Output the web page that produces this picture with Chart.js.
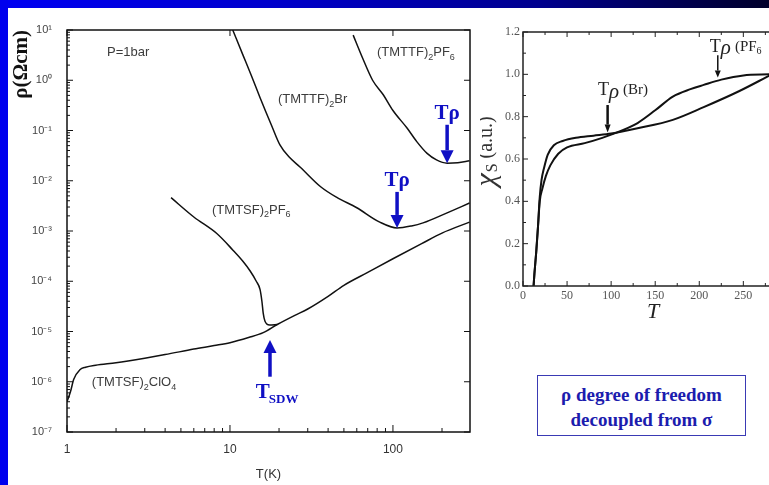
<!DOCTYPE html>
<html lang="en">
<head>
  <meta charset="UTF-8" />
  <title>Organic conductors: resistivity and spin susceptibility</title>
  <script src="https://cdn.jsdelivr.net/npm/chart.js"></script>
  <style>
    body {
      margin: 0;
      width: 769px;
      height: 485px;
      overflow: hidden;
      position: relative;
      background: #fff;
      font-family: 'Liberation Sans', Arial, sans-serif;
    }
    .topbar {
      position: absolute; left: 0; top: 0; width: 769px; height: 8px;
      background: linear-gradient(to right, #0000f2 0%, #0000cc 35%, #00008e 70%, #00002a 100%);
    }
    .leftbar {
      position: absolute; left: 0; top: 0; width: 8px; height: 485px;
      background: #0000ee;
    }
    #rhoBox { position: absolute; left: 8px; top: 8px; width: 472px; height: 477px; }
    #chiBox { position: absolute; left: 480px; top: 8px; width: 320px; height: 320px; }
    .note {
      position: absolute; left: 537px; top: 375px; width: 209px; height: 61px;
      box-sizing: border-box; border: 1px solid #3a3ab4;
      color: #1c1cae; text-align: center;
      font: bold 19px 'Liberation Serif', 'Times New Roman', serif;
      line-height: 25px; padding-top: 6px;
    }
  </style>
</head>
<body>
  <div class="topbar"></div>
  <div class="leftbar"></div>
  <div id="rhoBox"><canvas id="rhoChart"></canvas></div>
  <div id="chiBox"><canvas id="chiChart"></canvas></div>
  <div class="note">ρ degree of freedom<br>decoupled from σ</div>

  <script>
    // ---- left panel: resistivity (Ohm cm) vs T (K), P = 1 bar
    const clo4T   = [1, 1.05, 1.1, 1.2, 1.3, 1.5, 2, 3, 4, 6, 8, 10, 13, 16, 19.5, 25, 30, 40, 50, 70, 100, 150, 200, 295];
    const clo4Rho = [4.0e-7, 6.3e-7, 1.12e-6, 1.74e-6, 1.95e-6, 2.14e-6, 2.4e-6, 2.95e-6, 3.47e-6, 4.47e-6, 5.25e-6, 6.0e-6,
                     7.6e-6, 9.5e-6, 1.38e-5, 2.1e-5, 2.8e-5, 5.0e-5, 8.3e-5, 1.5e-4, 2.8e-4, 5.6e-4, 9.1e-4, 1.5e-3];

    const tsfPF6T   = [4.35, 6, 8.3, 10.4, 12, 13.3, 14.5, 15.3, 15.7, 16, 16.4, 17.5, 19.5];
    const tsfPF6Rho = [4.6e-3, 1.9e-3, 8.9e-4, 4.2e-4, 2.5e-4, 1.6e-4, 1.0e-4, 6.8e-5, 4.0e-5, 2.3e-5, 1.6e-5, 1.35e-5, 1.38e-5];

    const brT   = [10.4, 12, 13.5, 15.3, 18, 20.3, 23, 27, 36, 45, 60, 83, 106, 130, 153, 215, 295];
    const brRho = [10, 3.2, 1.26, 0.45, 0.126, 0.051, 0.030, 0.0186, 7.6e-3, 4.7e-3, 2.9e-3, 1.5e-3, 1.15e-3, 1.26e-3, 1.45e-3, 2.3e-3, 3.6e-3];

    const ttfPF6T   = [57, 65, 75, 87, 100, 122, 140, 162, 185, 215, 250, 295];
    const ttfPF6Rho = [7.9, 2.8, 1.0, 0.52, 0.25, 0.112, 0.060, 0.035, 0.026, 0.0224, 0.0229, 0.025];

    const rhoTicks      = [1e-7, 1e-6, 1e-5, 1e-4, 1e-3, 1e-2, 1e-1, 1, 10];
    const rhoTickLabels = ['10⁻⁷', '10⁻⁶', '10⁻⁵', '10⁻⁴', '10⁻³', '10⁻²', '10⁻¹', '10⁰', '10¹'];
    const tLogTicks      = [1, 10, 100];
    const tLogTickLabels = ['1', '10', '100'];

    // ---- right panel: spin susceptibility (a.u.) vs T
    const chiBrT  = [12, 13, 15, 17, 19, 21, 24, 28, 35, 45, 60, 80, 100, 130, 170, 205, 245, 280];
    const chiBr   = [0, 0.06, 0.16, 0.28, 0.42, 0.50, 0.56, 0.62, 0.665, 0.685, 0.70, 0.71, 0.72, 0.745, 0.785, 0.845, 0.92, 0.995];
    const chiPF6T = [12, 13, 15, 17, 19, 22, 26, 31, 40, 50, 70, 90, 100, 130, 150, 170, 190, 205, 225, 250, 280];
    const chiPF6  = [0, 0.06, 0.16, 0.28, 0.40, 0.46, 0.52, 0.57, 0.625, 0.655, 0.675, 0.70, 0.715, 0.77, 0.83, 0.895, 0.93, 0.95, 0.975, 0.995, 1.0];
    const chiTicks = [0, 0.2, 0.4, 0.6, 0.8, 1.0, 1.2];
    const tLinTicks = [0, 50, 100, 150, 200, 250];

    const pts = (xs, ys) => xs.map((x, i) => ({ x: x, y: ys[i] }));

    function line(ctx, x1, y1, x2, y2) {
      ctx.beginPath(); ctx.moveTo(x1, y1); ctx.lineTo(x2, y2); ctx.stroke();
    }

    // text with subscripts: parts = [[text, isSub], ...]
    function richText(ctx, x, y, parts, size, family, color) {
      let cx = x;
      ctx.fillStyle = color;
      ctx.textBaseline = 'middle';
      ctx.textAlign = 'left';
      for (const [t, sub] of parts) {
        ctx.font = (sub ? Math.round(size * 0.7) : size) + 'px ' + family;
        ctx.fillText(t, cx, y + (sub ? size * 0.35 : 0));
        cx += ctx.measureText(t).width;
      }
    }

    function arrow(ctx, x, yFrom, yTo, shaft, head, headLen, color) {
      const dir = yTo > yFrom ? 1 : -1;
      ctx.strokeStyle = color; ctx.fillStyle = color; ctx.lineWidth = shaft;
      line(ctx, x, yFrom, x, yTo - dir * headLen);
      ctx.beginPath();
      ctx.moveTo(x - head / 2, yTo - dir * headLen);
      ctx.lineTo(x + head / 2, yTo - dir * headLen);
      ctx.lineTo(x, yTo);
      ctx.closePath(); ctx.fill();
    }

    const rhoDecor = {
      id: 'rhoDecor',
      afterDraw(chart) {
        const { ctx, chartArea: a, scales: { x, y } } = chart;
        ctx.save();
        ctx.strokeStyle = '#111'; ctx.lineWidth = 1.5;
        ctx.strokeRect(a.left, a.top, a.right - a.left, a.bottom - a.top);
        ctx.lineWidth = 1;
        for (const d of rhoTicks) {
          for (let m = 1; m <= 9; m++) {
            const v = m * d;
            if (v > y.max * 1.0001) break;
            const py = y.getPixelForValue(v);
            line(ctx, a.left, py, a.left + (m === 1 ? 6 : 3), py);
            if (m === 1) line(ctx, a.right, py, a.right - 6, py);
          }
        }
        for (const d of tLogTicks) {
          for (let m = 1; m <= 9; m++) {
            const v = m * d;
            if (v > x.max) break;
            const px = x.getPixelForValue(v);
            line(ctx, px, a.bottom, px, a.bottom - (m === 1 ? 7 : 4));
            if (m === 1) line(ctx, px, a.top, px, a.top + 6);
          }
        }

        const grey = '#3c3c3c', sans = "'Liberation Sans', Arial, sans-serif";
        richText(ctx, x.getPixelForValue(1.76), y.getPixelForValue(3.6), [['P=1bar', 0]], 13, sans, grey);
        richText(ctx, x.getPixelForValue(79.8), y.getPixelForValue(3.5), [['(TMTTF)', 0], ['2', 1], ['PF', 0], ['6', 1]], 13, sans, grey);
        richText(ctx, x.getPixelForValue(19.7), y.getPixelForValue(0.41), [['(TMTTF)', 0], ['2', 1], ['Br', 0]], 13, sans, grey);
        richText(ctx, x.getPixelForValue(7.76), y.getPixelForValue(2.6e-3), [['(TMTSF)', 0], ['2', 1], ['PF', 0], ['6', 1]], 13, sans, grey);
        richText(ctx, x.getPixelForValue(1.42), y.getPixelForValue(9.5e-7), [['(TMTSF)', 0], ['2', 1], ['ClO', 0], ['4', 1]], 13, sans, grey);

        const blue = '#1010c4', serif = "bold 21px 'Liberation Serif', 'Times New Roman', serif";
        arrow(ctx, x.getPixelForValue(106), y.getPixelForValue(6.0e-3), y.getPixelForValue(1.15e-3), 3.5, 13, 13, blue);
        arrow(ctx, x.getPixelForValue(215), y.getPixelForValue(0.13), y.getPixelForValue(0.0224), 3.5, 13, 13, blue);
        arrow(ctx, x.getPixelForValue(17.6), y.getPixelForValue(1.26e-6), y.getPixelForValue(6.8e-6), 3.5, 13, 13, blue);
        ctx.font = serif; ctx.fillStyle = blue; ctx.textAlign = 'center'; ctx.textBaseline = 'middle';
        ctx.fillText('Tρ', x.getPixelForValue(106), y.getPixelForValue(1.0e-2));
        ctx.fillText('Tρ', x.getPixelForValue(215), y.getPixelForValue(0.22));
        ctx.textAlign = 'left';
        const sx = x.getPixelForValue(14.4), sy = y.getPixelForValue(6.0e-7);
        ctx.fillText('T', sx, sy);
        const tw = ctx.measureText('T').width;
        ctx.font = "bold 13px 'Liberation Serif', 'Times New Roman', serif";
        ctx.fillText('SDW', sx + tw - 1, sy + 7);
        ctx.restore();
      }
    };

    const curve = (data) => ({
      data: data, borderColor: '#111', borderWidth: 1.5, pointRadius: 0,
      fill: false, cubicInterpolationMode: 'monotone'
    });

    new Chart(document.getElementById('rhoChart'), {
      type: 'line',
      data: {
        datasets: [
          curve(pts(clo4T, clo4Rho)),
          curve(pts(tsfPF6T, tsfPF6Rho)),
          curve(pts(brT, brRho)),
          curve(pts(ttfPF6T, ttfPF6Rho))
        ]
      },
      options: {
        responsive: true, maintainAspectRatio: false, animation: false,
        layout: { padding: { top: 22, right: 10, left: 0, bottom: 0 } },
        plugins: { legend: { display: false }, tooltip: { enabled: false } },
        scales: {
          x: {
            type: 'logarithmic', min: 1, max: 297,
            afterBuildTicks: s => { s.ticks = tLogTicks.map(v => ({ value: v })); },
            afterFit: s => { s.height = 53; },
            grid: { display: false, drawTicks: false }, border: { display: false },
            ticks: {
              padding: 10, color: '#333', maxRotation: 0, autoSkip: false,
              font: { family: "'Liberation Sans', Arial, sans-serif", size: 12 },
              callback: v => tLogTickLabels[tLogTicks.indexOf(v)] ?? ''
            },
            title: {
              display: true, text: 'T(K)', color: '#333',
              font: { family: "'Liberation Sans', Arial, sans-serif", size: 13 },
              padding: { top: 0, bottom: 3 }
            }
          },
          y: {
            type: 'logarithmic', min: 1e-7, max: 10,
            afterBuildTicks: s => { s.ticks = rhoTicks.map(v => ({ value: v })); },
            afterFit: s => { s.width = 59; },
            grid: { display: false, drawTicks: false }, border: { display: false },
            ticks: {
              padding: 15, color: '#444', autoSkip: false,
              font: { family: "'Liberation Sans', Arial, sans-serif", size: 11 },
              callback: v => rhoTickLabels[rhoTicks.findIndex(t => Math.abs(t - v) / t < 1e-6)] ?? ''
            },
            title: {
              display: true, text: 'ρ(Ωcm)', align: 'end', color: '#111',
              font: { family: "'Liberation Serif', 'Times New Roman', serif", size: 21, weight: 'bold' },
              padding: { top: 1, bottom: 0 }
            }
          }
        }
      },
      plugins: [rhoDecor]
    });

    const chiDecor = {
      id: 'chiDecor',
      afterDraw(chart) {
        const { ctx, chartArea: a, scales: { x, y } } = chart;
        ctx.save();
        ctx.strokeStyle = '#222'; ctx.lineWidth = 1.5;
        ctx.strokeRect(a.left, a.top, a.right - a.left, a.bottom - a.top);
        ctx.lineWidth = 1;
        for (let v = 0; v <= 1.2001; v += 0.1) {
          const py = y.getPixelForValue(v);
          const major = Math.abs(v * 5 - Math.round(v * 5)) < 1e-6;
          line(ctx, a.left, py, a.left + (major ? 5 : 3), py);
        }
        for (let v = 0; v <= x.max; v += 25) {
          const px = x.getPixelForValue(v);
          const len = v % 50 === 0 ? 5 : 3;
          line(ctx, px, a.bottom, px, a.bottom - len);
          line(ctx, px, a.top, px, a.top + len);
        }

        // rotated y title: chi_s (a.u.)
        const serif = "'Liberation Serif', 'Times New Roman', serif";
        ctx.save();
        ctx.translate(a.left - 36, y.getPixelForValue(0.47));
        ctx.rotate(-Math.PI / 2);
        ctx.fillStyle = '#333'; ctx.textBaseline = 'middle'; ctx.textAlign = 'left';
        ctx.font = 'italic 30px ' + serif;
        ctx.fillText('χ', 0, 0);
        let cx = ctx.measureText('χ').width + 1;
        ctx.font = '16px ' + serif;
        ctx.fillText('S', cx, 6);
        cx += ctx.measureText('S').width + 5;
        ctx.font = '20px ' + serif;
        ctx.fillText('(a.u.)', cx, 0);
        ctx.restore();

        // T_rho markers
        arrow(ctx, x.getPixelForValue(96), y.getPixelForValue(0.855), y.getPixelForValue(0.725), 2.5, 6, 8, '#111');
        arrow(ctx, x.getPixelForValue(221), y.getPixelForValue(1.09), y.getPixelForValue(0.985), 1.5, 6, 7, '#111');
        const mark = (tx, ty, tail) => {
          let px = x.getPixelForValue(tx); const py = y.getPixelForValue(ty);
          ctx.fillStyle = '#222'; ctx.textBaseline = 'middle'; ctx.textAlign = 'left';
          ctx.font = '18px ' + serif; ctx.fillText('T', px, py); px += ctx.measureText('T').width;
          ctx.font = 'italic 21px ' + serif; ctx.fillText('ρ', px, py + 2); px += ctx.measureText('ρ').width + 4;
          for (const [t, sub] of tail) {
            ctx.font = (sub ? '10px ' : '15px ') + serif;
            ctx.fillText(t, px, py + (sub ? 5 : 0)); px += ctx.measureText(t).width;
          }
        };
        mark(85, 0.925, [['(Br)', 0]]);
        mark(212, 1.13, [['(PF', 0], ['6', 1]]);
        ctx.restore();
      }
    };

    const chiCurve = (data) => ({
      data: data, borderColor: '#111', borderWidth: 2, pointRadius: 0,
      fill: false, cubicInterpolationMode: 'monotone'
    });

    new Chart(document.getElementById('chiChart'), {
      type: 'line',
      data: { datasets: [chiCurve(pts(chiBrT, chiBr)), chiCurve(pts(chiPF6T, chiPF6))] },
      options: {
        responsive: true, maintainAspectRatio: false, animation: false,
        layout: { padding: { top: 24, right: 17, left: 0, bottom: 0 } },
        plugins: { legend: { display: false }, tooltip: { enabled: false } },
        scales: {
          x: {
            type: 'linear', min: 0, max: 295,
            afterBuildTicks: s => { s.ticks = tLinTicks.map(v => ({ value: v })); },
            afterFit: s => { s.height = 42; },
            grid: { display: false, drawTicks: false }, border: { display: false },
            ticks: {
              padding: 3, color: '#555', maxRotation: 0, autoSkip: false,
              font: { family: "'Liberation Serif', 'Times New Roman', serif", size: 12 },
              callback: v => String(v)
            },
            title: {
              display: true, text: 'T', color: '#222',
              font: { family: "'Liberation Serif', 'Times New Roman', serif", size: 22, style: 'italic' },
              padding: { top: 0, bottom: 3 }
            }
          },
          y: {
            type: 'linear', min: 0, max: 1.2,
            afterBuildTicks: s => { s.ticks = chiTicks.map(v => ({ value: v })); },
            afterFit: s => { s.width = 43; },
            grid: { display: false, drawTicks: false }, border: { display: false },
            ticks: {
              padding: 3, color: '#555', autoSkip: false,
              font: { family: "'Liberation Serif', 'Times New Roman', serif", size: 12 },
              callback: v => v.toFixed(1)
            }
          }
        }
      },
      plugins: [chiDecor]
    });
  </script>
</body>
</html>
